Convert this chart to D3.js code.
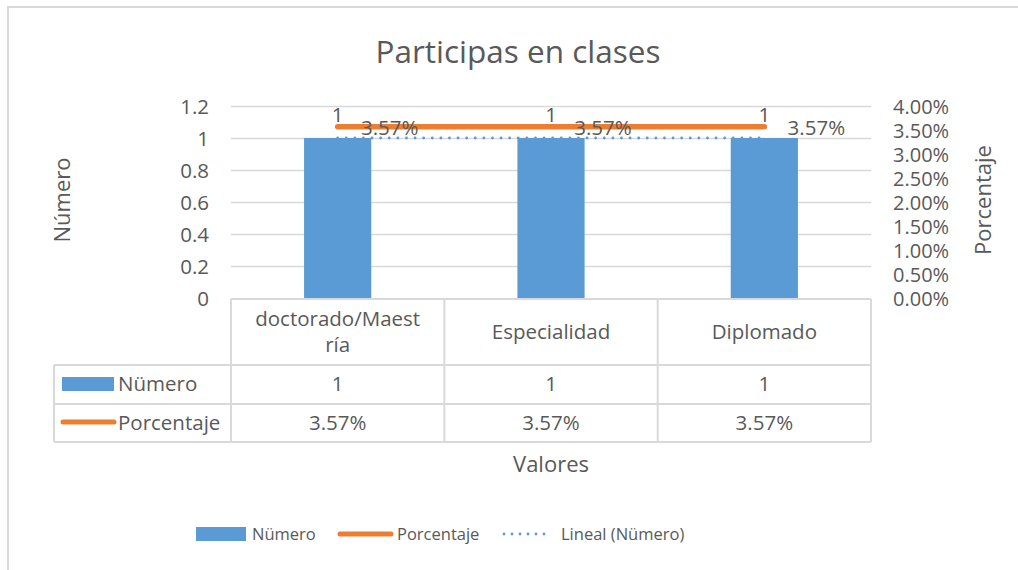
<!DOCTYPE html>
<html><head><meta charset="utf-8">
<script src="https://cdn.jsdelivr.net/npm/d3@7"></script>
<style>
html,body{margin:0;padding:0;background:#fff;}
text{font-family:"Open Sans",Lato,sans-serif;fill:#595959;}
</style></head>
<body>
<svg id="c" width="1018" height="570"></svg>
<script>
const categories = ["doctorado/Maestría", "Especialidad", "Diplomado"];
const headerLines = [["doctorado/Maest", "ría"], ["Especialidad"], ["Diplomado"]];
const numero = [1, 1, 1];
const porcentaje = [0.0357, 0.0357, 0.0357];
const trend = [1, 1, 1];
const leftTicks = [0, 0.2, 0.4, 0.6, 0.8, 1, 1.2];
const rightTicks = [0, 0.005, 0.01, 0.015, 0.02, 0.025, 0.03, 0.035, 0.04];

const BLUE = "#5B9BD5", ORANGE = "#ED7D31", GRID = "#d9d9d9";
const FS = 20.5;
const svg = d3.select("#c");

// chart border
svg.append("rect").attr("x", 8).attr("y", 7).attr("width", 1020).attr("height", 580)
  .attr("fill", "#fff").attr("stroke", GRID).attr("stroke-width", 2);

const L = 231, R = 871, T = 106, B = 298;
const x = d3.scaleBand().domain(categories).range([L, R]).padding(0);
const y = d3.scaleLinear().domain([0, 1.2]).range([B, T]);
const y2 = d3.scaleLinear().domain([0, 0.04]).range([B, T]);

// title
svg.append("text").attr("x", 518).attr("y", 63).attr("text-anchor", "middle")
  .attr("font-size", 31.5).text("Participas en clases");

// gridlines
svg.append("g").selectAll("line").data(leftTicks.slice(1)).join("line")
  .attr("x1", L).attr("x2", R).attr("y1", d => Math.round(y(d)) + 0.5).attr("y2", d => Math.round(y(d)) + 0.5)
  .attr("stroke", GRID).attr("stroke-width", 1.5);

// left axis
const fmtL = d => d === 0 ? "0" : d3.format("~g")(d);
const gl = svg.append("g").attr("transform", `translate(${L - 22},0)`)
  .call(d3.axisLeft(y).tickValues(leftTicks).tickFormat(fmtL).tickSize(0).tickPadding(0));
gl.select(".domain").remove();
gl.selectAll("text").attr("font-size", FS).attr("fill", "#595959").attr("font-family", "Open Sans").attr("dy", "0.35em");

// right axis
const gr = svg.append("g").attr("transform", `translate(${R + 22},0)`)
  .call(d3.axisRight(y2).tickValues(rightTicks).tickFormat(d3.format(".2%")).tickSize(0).tickPadding(0));
gr.select(".domain").remove();
gr.selectAll("text").attr("font-size", 20).attr("fill", "#595959").attr("font-family", "Open Sans").attr("dy", "0.35em");

// bars
const bw = x.bandwidth() * 0.315;
svg.append("g").selectAll("rect").data(numero).join("rect")
  .attr("x", (d, i) => x(categories[i]) + x.bandwidth() / 2 - bw / 2)
  .attr("y", d => y(d)).attr("width", bw).attr("height", d => y(0) - y(d))
  .attr("fill", BLUE);

const cx = i => x(categories[i]) + x.bandwidth() / 2;

// trendline (dotted)
svg.append("path").datum(trend)
  .attr("d", d3.line().x((d, i) => cx(i)).y(d => y(d)))
  .attr("fill", "none").attr("stroke", BLUE).attr("stroke-width", 2.8)
  .attr("stroke-linecap", "round").attr("stroke-dasharray", "0 8.6");

// percentage line
svg.append("path").datum(porcentaje)
  .attr("d", d3.line().x((d, i) => cx(i)).y(d => y2(d)))
  .attr("fill", "none").attr("stroke", ORANGE).attr("stroke-width", 5.5)
  .attr("stroke-linecap", "round");

// data labels
svg.append("g").selectAll("text").data(numero).join("text")
  .attr("x", (d, i) => cx(i)).attr("y", d => y(d) - 16).attr("text-anchor", "middle")
  .attr("font-size", FS).text(d => d);
svg.append("g").selectAll("text").data(porcentaje).join("text")
  .attr("x", (d, i) => cx(i) + 52).attr("y", d => y2(d) + 8.5).attr("text-anchor", "middle")
  .attr("font-size", FS).text(d => d3.format(".2%")(d));

// data table
const rowBot = 442, tableL = 54;
const tg = svg.append("g").attr("stroke", GRID).attr("stroke-width", 2);
[L, ...categories.map(c => x(c) + x.bandwidth())].forEach(xx => {
  tg.append("line").attr("x1", xx).attr("x2", xx).attr("y1", B + 1).attr("y2", rowBot);
});
tg.append("line").attr("x1", L).attr("x2", R).attr("y1", B + 1).attr("y2", B + 1);
[365, 404, 442].forEach(yy => tg.append("line").attr("x1", tableL).attr("x2", R).attr("y1", yy).attr("y2", yy));
tg.append("line").attr("x1", tableL).attr("x2", tableL).attr("y1", 365).attr("y2", rowBot);

// header
headerLines.forEach((lines, i) => {
  const t = svg.append("text").attr("text-anchor", "middle").attr("font-size", FS);
  const y0 = lines.length === 2 ? 326 : 339;
  lines.forEach((ln, j) => t.append("tspan").attr("x", cx(i)).attr("y", y0 + j * 26).text(ln));
});
// row values
svg.append("g").selectAll("text").data(numero).join("text")
  .attr("x", (d, i) => cx(i)).attr("y", 391).attr("text-anchor", "middle").attr("font-size", FS).text(d => d);
svg.append("g").selectAll("text").data(porcentaje).join("text")
  .attr("x", (d, i) => cx(i)).attr("y", 430).attr("text-anchor", "middle").attr("font-size", FS).text(d => d3.format(".2%")(d));
// row keys
svg.append("rect").attr("x", 62).attr("y", 377).attr("width", 52).attr("height", 14).attr("fill", BLUE);
svg.append("text").attr("x", 118).attr("y", 391).attr("font-size", FS).text("Nümero");
svg.append("line").attr("x1", 63).attr("x2", 114).attr("y1", 422).attr("y2", 422)
  .attr("stroke", ORANGE).attr("stroke-width", 5).attr("stroke-linecap", "round");
svg.append("text").attr("x", 118).attr("y", 430).attr("font-size", FS).text("Porcentaje");

// axis titles
svg.append("text").attr("x", 551).attr("y", 472).attr("text-anchor", "middle").attr("font-size", 22).text("Valores");
svg.append("text").attr("transform", "translate(70,200) rotate(-90)").attr("text-anchor", "middle").attr("font-size", 22).text("Número");
svg.append("text").attr("transform", "translate(991,200) rotate(-90)").attr("text-anchor", "middle").attr("font-size", 22).text("Porcentaje");

// legend
const lg = svg.append("g");
lg.append("rect").attr("x", 196).attr("y", 527).attr("width", 50).attr("height", 14).attr("fill", BLUE);
lg.append("text").attr("x", 252).attr("y", 540).attr("font-size", 16.5).text("Nümero");
lg.append("line").attr("x1", 340).attr("x2", 391).attr("y1", 534).attr("y2", 534)
  .attr("stroke", ORANGE).attr("stroke-width", 5).attr("stroke-linecap", "round");
lg.append("text").attr("x", 397).attr("y", 540).attr("font-size", 16.5).text("Porcentaje");
lg.append("line").attr("x1", 504).attr("x2", 552).attr("y1", 534).attr("y2", 534)
  .attr("stroke", BLUE).attr("stroke-width", 2.8).attr("stroke-linecap", "round").attr("stroke-dasharray", "0 8");
lg.append("text").attr("x", 561).attr("y", 540).attr("font-size", 16.5).text("Lineal (Nümero)");
</script>
</body></html>
